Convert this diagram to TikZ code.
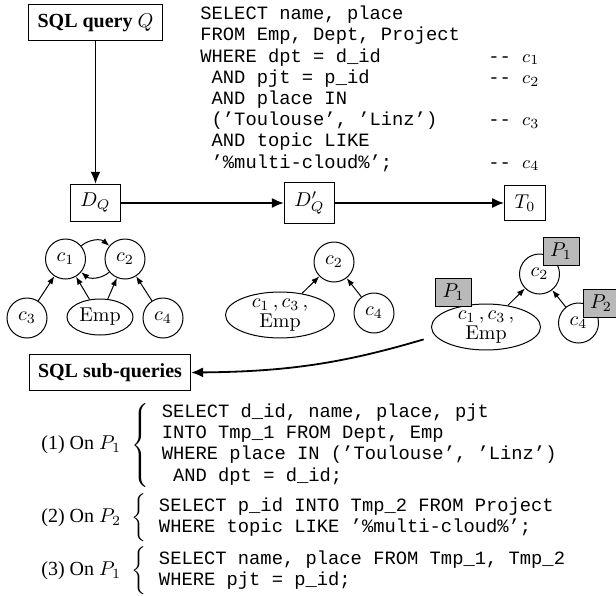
\documentclass[tikz,border=0pt]{standalone}
\usepackage[no-math]{fontspec}
\setmainfont{Liberation Serif}
\setmonofont{Liberation Mono}
\usetikzlibrary{arrows.meta,shapes.geometric}
\begin{document}
\begin{tikzpicture}[x=0.5pt,y=0.5pt]
\tikzset{
  box/.style={draw,line width=0.5pt,inner xsep=5pt,inner ysep=4.5pt},
  bigbox/.style={draw,line width=0.5pt,inner sep=4.3pt,font=\bfseries},
  cnode/.style={circle,draw,line width=0.5pt,minimum size=20pt,inner sep=1pt},
  enode/.style={ellipse,draw,line width=0.5pt,inner sep=0pt,minimum width=33pt,minimum height=18pt},
  wideenode/.style={enode,minimum width=54.5pt,minimum height=21pt,align=center,font=\fontsize{10}{10}\selectfont},
  pbox/.style={draw,fill=gray!55,line width=0.5pt,minimum width=18pt,minimum height=14pt,inner sep=0pt},
  flow/.style={-{Latex[length=6pt,width=5pt]},line width=0.9pt},
  dep/.style={-{Latex[length=4pt,width=3pt]},line width=0.5pt},
  code/.style={inner sep=0pt,font=\ttfamily\fontsize{9.4}{10.6}\selectfont},
  subq/.style={inner sep=0pt,anchor=west}
}
\useasboundingbox (0,0) rectangle (616,-595);

\node[bigbox] (query) at (95.5,-22.5) {SQL query $Q$};
\node[code,anchor=north west] (sqlcode) at (200,-4.5) {\begin{tabular}{@{}p{144pt}@{}l@{}}
SELECT name, place & \\
FROM Emp, Dept, Project & \\
WHERE dpt = d\_id & -{}- $c_1$ \\
\ AND pjt = p\_id & -{}- $c_2$ \\
\ AND place IN & \\
\ (’Toulouse’, ’Linz’) & -{}- $c_3$ \\
\ AND topic LIKE & \\
\ ’\%multi-cloud\%’; & -{}- $c_4$
\end{tabular}};

\node[box] (dq) at (95.5,-203) {$D_Q$};
\node[box] (dqp) at (309.5,-203) {$D'_Q$};
\node[box] (tzero) at (525,-203) {$T_0$};
\draw[flow] (query) -- (dq);
\draw[flow] (dq) -- (dqp);
\draw[flow] (dqp) -- (tzero);

\node[cnode] (ga1) at (65.5,-259) {$c_1$};
\node[cnode] (ga2) at (125,-259) {$c_2$};
\node[cnode] (ga3) at (27,-318) {$c_3$};
\node[enode] (gaemp) at (100,-317) {$\mathrm{Emp}$};
\node[cnode] (ga4) at (163,-318) {$c_4$};
\draw[dep] (ga3) -- (ga1);
\draw[dep] (gaemp) -- (ga1);
\draw[dep] (gaemp) -- (ga2);
\draw[dep] (ga4) -- (ga2);
\draw[dep] (ga1) to[bend left=40] (ga2);
\draw[dep] (ga2) to[bend left=40] (ga1);

\node[cnode] (gb2) at (334,-262) {$c_2$};
\node[wideenode] (gbe) at (280,-315) {$c_1\,, c_3\,,$\\$\mathrm{Emp}$};
\node[cnode] (gb4) at (374,-313) {$c_4$};
\draw[dep] (gbe) -- (gb2);
\draw[dep] (gb4) -- (gb2);

\node[cnode] (gc2) at (539.5,-274) {$c_2$};
\node[wideenode] (gce) at (486,-327) {$c_1\,, c_3\,,$\\$\mathrm{Emp}$};
\node[cnode] (gc4) at (578.5,-323) {$c_4$};
\draw[dep] (gce) -- (gc2);
\draw[dep] (gc4) -- (gc2);
\node[pbox] (pa) at (561,-251) {$P_1$};
\node[pbox] (pb) at (453.5,-292) {$P_1$};
\node[pbox] (pc) at (601,-303) {$P_2$};

\node[bigbox] (sub) at (110,-372.5) {SQL sub-queries};
\draw[flow,shorten <=6pt] (gce.190) to[bend left=8] (sub.east);

\node[subq] (sq1) at (41,-445) {(1) On $P_1$\hspace{3pt} {\ttfamily\fontsize{9.4}{10.6}\selectfont$\left\{\begin{tabular}{@{\hspace{6pt}}l@{}}
SELECT d\_id, name, place, pjt\\
INTO Tmp\_1 FROM Dept, Emp\\
WHERE place IN (’Toulouse’, ’Linz’)\\
\ AND dpt = d\_id;
\end{tabular}\right.$}};
\node[subq] (sq2) at (41,-517.5) {(2) On $P_2$\hspace{3pt} {\ttfamily\fontsize{9.4}{10.6}\selectfont$\left\{\begin{tabular}{@{\hspace{6pt}}l@{}}
SELECT p\_id INTO Tmp\_2 FROM Project\\
WHERE topic LIKE ’\%multi-cloud\%’;
\end{tabular}\right.$}};
\node[subq] (sq3) at (41,-570.5) {(3) On $P_1$\hspace{3pt} {\ttfamily\fontsize{9.4}{10.6}\selectfont$\left\{\begin{tabular}{@{\hspace{6pt}}l@{}}
SELECT name, place FROM Tmp\_1, Tmp\_2\\
WHERE pjt = p\_id;
\end{tabular}\right.$}};
\end{tikzpicture}
\end{document}
